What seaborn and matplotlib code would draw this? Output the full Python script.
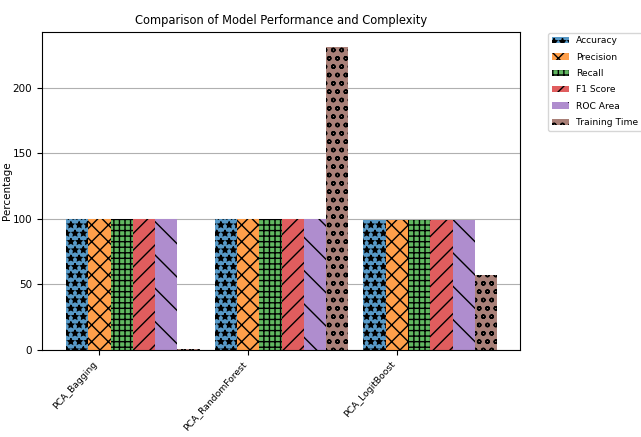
import numpy as np
import pandas as pd
import matplotlib
matplotlib.use("Agg")
import matplotlib.pyplot as plt
import matplotlib.colors as mcolors
from matplotlib import font_manager
import seaborn as sns

models = ["PCA_Bagging", "PCA_RandomForest", "PCA_LogitBoost"]
metrics = ["Accuracy", "Precision", "Recall", "F1 Score", "ROC Area", "Training Time"]
accuracy = [99.8, 99.9, 99.0]
precision = [99.8, 99.9, 99.0]
recall = [99.8, 99.9, 99.0]
f1_score = [99.8, 99.9, 99.0]
roc_area = [99.9, 99.9, 99.5]
training_time = [1.0, 231.0, 57.0]
hatches = ["**", "xx", "+++", "//", "\\", "oo"]
base_colors = ["#1f77b4", "#ff7f0e", "#2ca02c", "#d62728", "#9467bd", "#8c564b"]

series = [accuracy, precision, recall, f1_score, roc_area, training_time]
rows = []
for m, vals in zip(metrics, series):
    for model, v in zip(models, vals):
        rows.append({"Model": model, "Metric": m, "Value": v})
df = pd.DataFrame(rows)

def blend(c, a=0.75):
    r = np.array(mcolors.to_rgb(c))
    return tuple(a * r + (1 - a) * 1.0)

palette = [blend(c) for c in base_colors]

avail = {f.name for f in font_manager.fontManager.ttflist}
fam = [f for f in ["DejaVu Sans Condensed", "Liberation Sans Narrow"] if f in avail] + ["DejaVu Sans"]
plt.rcParams["font.family"] = fam
plt.rcParams["hatch.linewidth"] = 1.0

fig, ax = plt.subplots(figsize=(6.41, 4.37), dpi=100)
sns.barplot(data=df, x="Model", y="Value", hue="Metric", order=models,
            hue_order=metrics, palette=palette, width=0.9, dodge=True,
            ax=ax, legend=False, saturation=1, errorbar=None)

for cont, h in zip(ax.containers, hatches):
    for p in cont.patches:
        p.set_hatch(h)
        p.set_edgecolor("black")
        p.set_linewidth(0)

pos = np.arange(len(models)) - 0.45 + 0.075 + 0.15
ax.set_xticks(pos)
ax.set_xticklabels(models, rotation=48, ha="right", fontsize=6.7)
ax.set_xlim(-0.611, 2.604)
ax.set_ylim(0, 242.6)
ax.set_yticks([0, 50, 100, 150, 200])
ax.tick_params(axis="y", labelsize=7.5)
ax.yaxis.grid(True, color="#b0b0b0", linewidth=0.8)
ax.set_axisbelow(True)
ax.set_xlabel("")
ax.set_ylabel("Percentage", fontsize=7.5)
ax.yaxis.set_label_coords(-0.063, 0.5)
ax.set_title("Comparison of Model Performance and Complexity", fontsize=8.3)

ax.legend(ax.containers, metrics, bbox_to_anchor=(1.05, 1.012), loc="upper left",
          fontsize=6.6, handlelength=1.8, labelspacing=0.8)

fig.subplots_adjust(left=42/641, right=520/641, top=1-32/437, bottom=1-350/437)
fig.savefig("out.png", dpi=100)
